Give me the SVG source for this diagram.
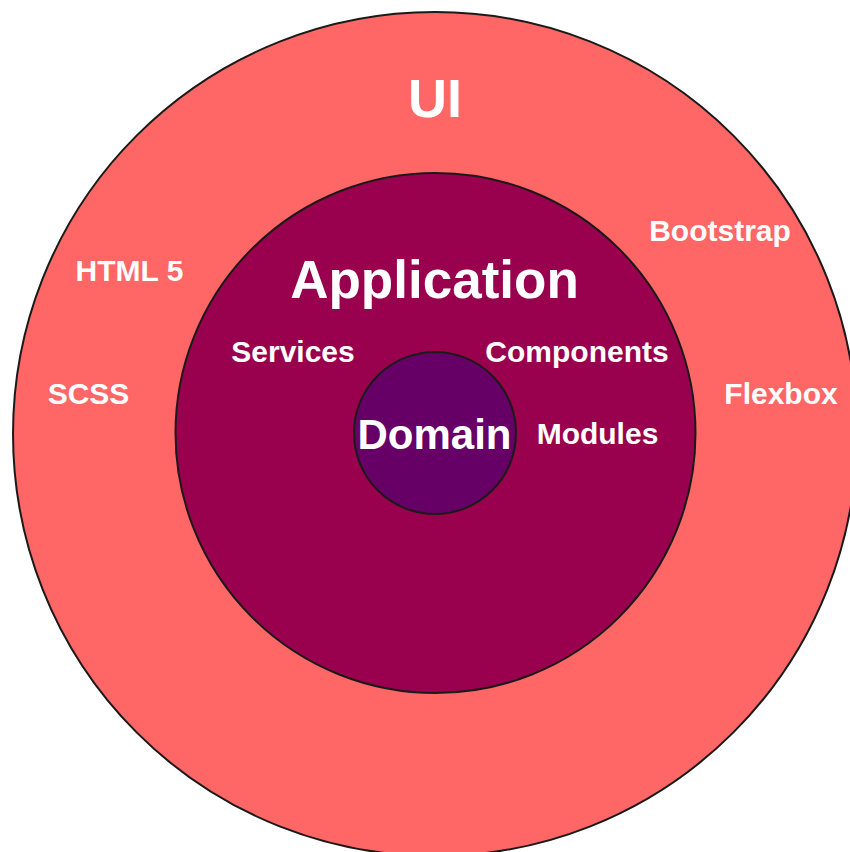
<svg xmlns="http://www.w3.org/2000/svg" width="850" height="852" viewBox="0 0 850 852">
<style>
.ring{stroke:#1a1a1a;stroke-width:2}
text{font-family:"Liberation Sans",Arial,sans-serif;font-weight:bold;fill:#ffffff;text-anchor:middle}
.s{font-size:30px}
</style>
<rect width="850" height="852" fill="#ffffff"/>
<g id="ui">
<circle class="ring" cx="435" cy="434" r="422" fill="#FF6666"/>
<text x="435" y="117" font-size="54">UI</text>
<text class="s" x="129.5" y="281">HTML 5</text>
<text class="s" x="720" y="241">Bootstrap</text>
<text class="s" x="88.5" y="404">SCSS</text>
<text class="s" x="781" y="404">Flexbox</text>
</g>
<g id="application">
<circle class="ring" cx="435.5" cy="433" r="260" fill="#99004D"/>
<text x="434.5" y="298" font-size="53">Application</text>
<text class="s" x="293" y="362">Services</text>
<text class="s" x="577" y="362">Components</text>
<text class="s" x="597.5" y="444">Modules</text>
</g>
<g id="domain">
<circle class="ring" cx="435" cy="433" r="81" fill="#660066"/>
<text x="434.5" y="449" font-size="42">Domain</text>
</g>
<g id="connectors"></g>
</svg>
